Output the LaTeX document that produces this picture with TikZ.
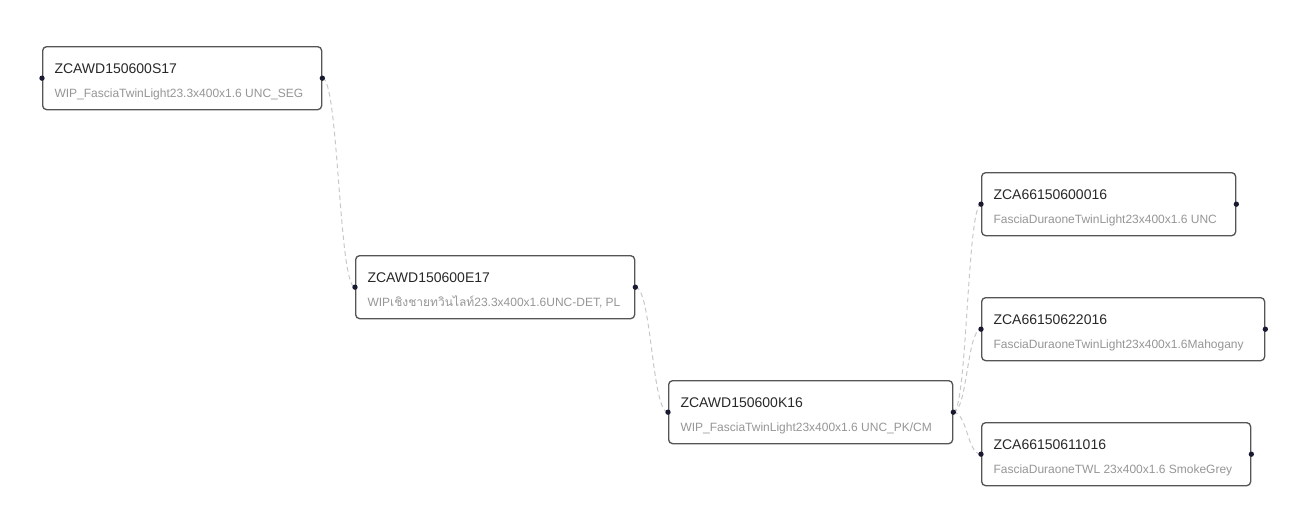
\documentclass[tikz,border=0pt]{standalone}
\usepackage{fontspec}
\setmainfont{Liberation Sans}
\newfontfamily\thaifont[Script=Thai]{Loma}
\usetikzlibrary{calc}

\definecolor{cardline}{RGB}{85,85,85}
\definecolor{idtext}{RGB}{40,40,40}
\definecolor{desctext}{RGB}{150,150,150}
\definecolor{linkgrey}{RGB}{200,200,200}
\definecolor{portdot}{RGB}{25,25,50}

\tikzset{every picture/.style={line width=0.75pt}}
\tikzset{
  card/.style={draw=cardline, line width=1pt, rounded corners=3pt, fill=white, anchor=north west,
    inner sep=0pt, minimum height=63*0.75pt, minimum width=#1*0.75pt},
  idlabel/.style={anchor=base west, inner sep=0pt, text=idtext, font=\fontsize{10.5}{12}\selectfont},
  desclabel/.style={anchor=base west, inner sep=0pt, text=desctext, font=\fontsize{9}{11}\selectfont},
  link/.style={draw=linkgrey, dash pattern=on 3.5pt off 2.5pt, line width=0.75pt},
  port/.style={circle, fill=portdot, inner sep=0pt, minimum size=4pt}
}

\begin{document}
\begin{tikzpicture}[x=0.75pt,y=0.75pt,yscale=-1,xscale=1]
	\useasboundingbox (0,0) rectangle (1293,526);

	%Shape: Rectangle [wip1]
	\node[card=279] (wip1) at (42,46) {};
	%Shape: Rectangle [wip2]
	\node[card=279] (wip2) at (355,255) {};
	%Shape: Rectangle [wip3]
	\node[card=284] (wip3) at (668,380) {};
	%Shape: Rectangle [fg1]
	\node[card=254] (fg1) at (981,172) {};
	%Shape: Rectangle [fg2]
	\node[card=283] (fg2) at (981,297) {};
	%Shape: Rectangle [fg3]
	\node[card=269] (fg3) at (981,422) {};

	% Text Node
	\node[idlabel] (wip1-id) at ($(wip1.north west)+(12,27)$) {ZCAWD150600S17};
	\node[desclabel] (wip1-desc) at ($(wip1.north west)+(12,51)$) {WIP\_FasciaTwinLight23.3x400x1.6 UNC\_SEG};
	% Text Node
	\node[idlabel] (wip2-id) at ($(wip2.north west)+(12,27)$) {ZCAWD150600E17};
	\node[desclabel] (wip2-desc) at ($(wip2.north west)+(12,51)$) {WIP{\thaifont เชิงชายทวินไลท์}23.3x400x1.6UNC-DET, PL};
	% Text Node
	\node[idlabel] (wip3-id) at ($(wip3.north west)+(12,27)$) {ZCAWD150600K16};
	\node[desclabel] (wip3-desc) at ($(wip3.north west)+(12,51)$) {WIP\_FasciaTwinLight23x400x1.6 UNC\_PK/CM};
	% Text Node
	\node[idlabel] (fg1-id) at ($(fg1.north west)+(12,27)$) {ZCA66150600016};
	\node[desclabel] (fg1-desc) at ($(fg1.north west)+(12,51)$) {FasciaDuraoneTwinLight23x400x1.6 UNC};
	% Text Node
	\node[idlabel] (fg2-id) at ($(fg2.north west)+(12,27)$) {ZCA66150622016};
	\node[desclabel] (fg2-desc) at ($(fg2.north west)+(12,51)$) {FasciaDuraoneTwinLight23x400x1.6Mahogany};
	% Text Node
	\node[idlabel] (fg3-id) at ($(fg3.north west)+(12,27)$) {ZCA66150611016};
	\node[desclabel] (fg3-desc) at ($(fg3.north west)+(12,51)$) {FasciaDuraoneTWL 23x400x1.6 SmokeGrey};

	%Curve Lines (links)
	\foreach \src/\dst in {wip1/wip2, wip2/wip3, wip3/fg1, wip3/fg2, wip3/fg3}
		\draw[link] let \p1=(\src.east), \p2=(\dst.west) in
			(\p1) .. controls ({(\x1+\x2)/2},\y1) and ({(\x1+\x2)/2},\y2) .. (\p2);

	%Shape: Circle (ports)
	\foreach \card in {wip1,wip2,wip3,fg1,fg2,fg3} {
		\node[port] (\card-in) at (\card.west) {};
		\node[port] (\card-out) at (\card.east) {};
	}

\end{tikzpicture}
\end{document}
